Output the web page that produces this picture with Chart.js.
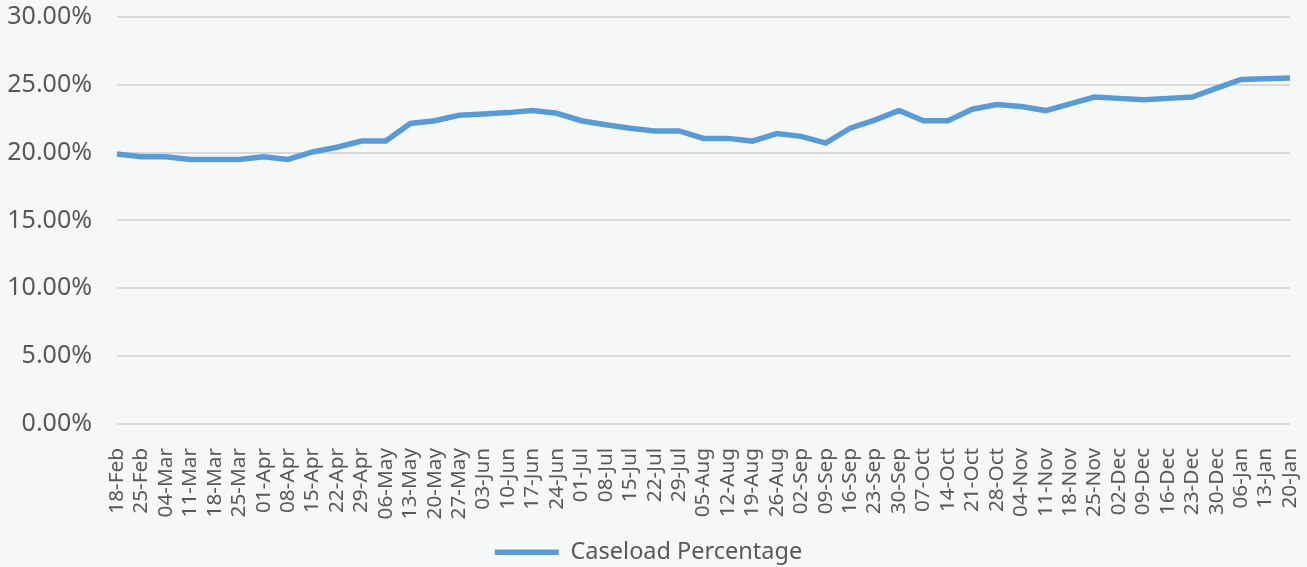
<!DOCTYPE html>
<html>
<head>
<meta charset="utf-8">
<script src="https://cdn.jsdelivr.net/npm/chart.js@4/dist/chart.umd.min.js"></script>
<style>
  html, body { margin: 0; padding: 0; background: #f6f8f8; }
  canvas { display: block; }
</style>
</head>
<body>
<canvas id="chart" width="1307" height="567"></canvas>
<script>
// weekly dates
const weeks = [
  '18-Feb', '25-Feb', '04-Mar', '11-Mar', '18-Mar', '25-Mar', '01-Apr', '08-Apr',
  '15-Apr', '22-Apr', '29-Apr', '06-May', '13-May', '20-May', '27-May', '03-Jun',
  '10-Jun', '17-Jun', '24-Jun', '01-Jul', '08-Jul', '15-Jul', '22-Jul', '29-Jul',
  '05-Aug', '12-Aug', '19-Aug', '26-Aug', '02-Sep', '09-Sep', '16-Sep', '23-Sep',
  '30-Sep', '07-Oct', '14-Oct', '21-Oct', '28-Oct', '04-Nov', '11-Nov', '18-Nov',
  '25-Nov', '02-Dec', '09-Dec', '16-Dec', '23-Dec', '30-Dec', '06-Jan', '13-Jan',
  '20-Jan'
];

// caseload percentage (%)
const caseload = [
  19.9, 19.7, 19.7, 19.5, 19.5, 19.5, 19.7, 19.5,
  20.05, 20.4, 20.85, 20.85, 22.15, 22.35, 22.75, 22.85,
  22.95, 23.1, 22.9, 22.35, 22.05, 21.8, 21.6, 21.6,
  21.05, 21.05, 20.85, 21.4, 21.2, 20.7, 21.8, 22.4,
  23.1, 22.35, 22.35, 23.2, 23.55, 23.4, 23.1, 23.6,
  24.1, 24.0, 23.9, 24.0, 24.1, 24.75, 25.4, 25.45,
  25.5
];

const yTicks = [0, 5, 10, 15, 20, 25, 30];

const textColor = '#595959';

new Chart(document.getElementById('chart'), {
  type: 'line',
  data: {
    labels: weeks,
    datasets: [{
      label: 'Caseload Percentage',
      data: caseload,
      borderColor: '#5b9bd5',
      backgroundColor: '#5b9bd5',
      borderWidth: 5.5,
      pointRadius: 0,
      tension: 0,
      fill: false
    }]
  },
  options: {
    responsive: false,
    animation: false,
    layout: { padding: { left: 7, right: 17, top: 17, bottom: -7 } },
    plugins: {
      legend: {
        position: 'bottom',
        labels: {
          usePointStyle: true,
          pointStyle: 'line',
          pointStyleWidth: 64,
          color: textColor,
          font: { family: 'Noto Sans', size: 23.5 },
          padding: 5
        }
      },
      tooltip: { enabled: false }
    },
    scales: {
      x: {
        offset: false,
        grid: { display: false },
        border: { display: false },
        afterFit: axis => { axis.paddingLeft = 0; axis.paddingRight = 0; },
        ticks: {
          autoSkip: false,
          minRotation: 90,
          maxRotation: 90,
          color: textColor,
          font: { family: 'Noto Sans', size: 20.8 },
          padding: 16
        }
      },
      y: {
        min: yTicks[0],
        max: yTicks[yTicks.length - 1],
        afterBuildTicks: axis => { axis.ticks = yTicks.map(v => ({ value: v })); },
        afterFit: axis => { axis.width = 110; axis.paddingTop = 0; axis.paddingBottom = 0; },
        grid: { color: '#d9d9d9', lineWidth: 2, drawTicks: false },
        border: { display: false },
        ticks: {
          color: textColor,
          font: { family: 'Noto Sans', size: 25 },
          padding: 25,
          callback: v => v.toFixed(2) + '%'
        }
      }
    }
  }
});
</script>
</body>
</html>
